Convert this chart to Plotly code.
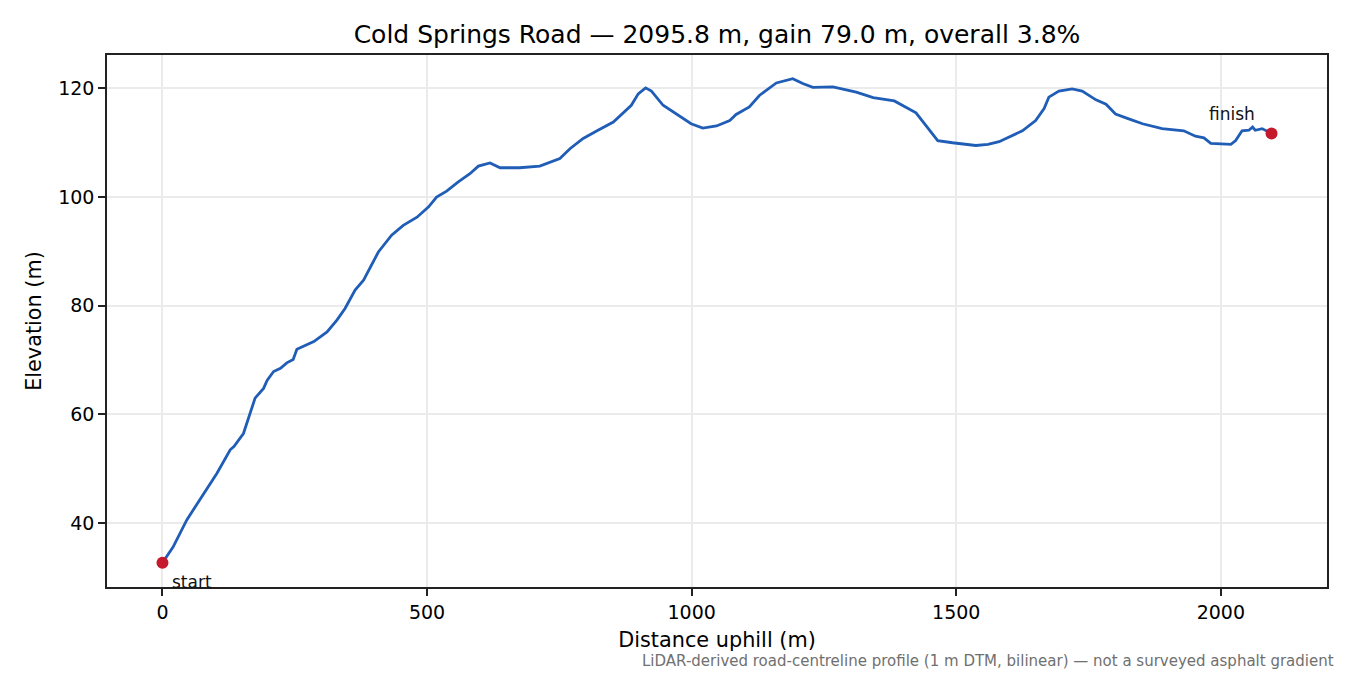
import plotly.graph_objects as go

# road-centreline profile
distance_m = [0, 20, 46, 78, 103, 128, 135, 153, 175, 191, 198, 210, 223, 235, 247, 254, 267, 286,
              311, 330, 345, 364, 380, 393, 408, 433, 455, 481, 503, 518, 537, 559, 581, 597, 619,
              638, 675, 713, 751, 770, 795, 823, 852, 886, 899, 913, 924, 946, 971, 999, 1021,
              1047, 1072, 1084, 1109, 1128, 1160, 1191, 1210, 1229, 1267, 1311, 1343, 1383, 1424,
              1443, 1465, 1493, 1537, 1560, 1581, 1625, 1650, 1666, 1675, 1694, 1719, 1738, 1764,
              1783, 1801, 1826, 1852, 1889, 1930, 1952, 1968, 1981, 2019, 2028, 2040, 2053, 2060,
              2065, 2078, 2095.8]
elevation_m = [32.7, 35.6, 40.6, 45.5, 49.2, 53.5, 54.1, 56.5, 63.0, 64.8, 66.3, 67.9, 68.5, 69.5,
               70.1, 72.0, 72.6, 73.4, 75.2, 77.4, 79.5, 82.9, 84.7, 87.2, 89.9, 93.0, 94.8, 96.3,
               98.2, 100.0, 101.1, 102.8, 104.3, 105.7, 106.3, 105.4, 105.4, 105.7, 107.1, 108.9,
               110.8, 112.3, 113.8, 116.9, 119.0, 120.1, 119.5, 116.9, 115.3, 113.5, 112.7, 113.1,
               114.1, 115.2, 116.6, 118.7, 121.0, 121.8, 120.9, 120.2, 120.3, 119.3, 118.3, 117.7,
               115.5, 113.2, 110.4, 110.0, 109.5, 109.7, 110.2, 112.2, 114.1, 116.3, 118.4, 119.5,
               119.9, 119.5, 117.9, 117.1, 115.3, 114.4, 113.5, 112.6, 112.2, 111.2, 110.9, 109.9,
               109.7, 110.4, 112.2, 112.3, 112.9, 112.3, 112.6, 111.7]

route_name = "Cold Springs Road"
total_len = distance_m[-1]
gain = elevation_m[-1] - elevation_m[0]
overall = gain / total_len * 100

font = "DejaVu Sans"

fig = go.Figure()
fig.add_trace(go.Scatter(x=distance_m, y=elevation_m, mode="lines",
                         line=dict(color="#1f5db6", width=2.8), showlegend=False))
fig.add_trace(go.Scatter(x=[distance_m[0], distance_m[-1]], y=[elevation_m[0], elevation_m[-1]],
                         mode="markers", marker=dict(color="#c41a2b", size=12),
                         showlegend=False))

fig.add_annotation(x=distance_m[0], y=elevation_m[0], text="start", showarrow=False,
                   xanchor="left", yanchor="top", xshift=8, yshift=-7,
                   font=dict(size=17, color="#111"))
fig.add_annotation(x=distance_m[-1], y=elevation_m[-1], text="finish", showarrow=False,
                   xanchor="right", yanchor="bottom", xshift=-15, yshift=8,
                   font=dict(size=17, color="#111"))
fig.add_annotation(x=1, y=0, xref="paper", yref="paper", xanchor="right", yanchor="top",
                   xshift=9, yshift=-63, showarrow=False,
                   text="LiDAR-derived road-centreline profile (1 m DTM, bilinear) — not a surveyed asphalt gradient",
                   font=dict(size=15, color="#707070"))

axis_common = dict(showline=True, linecolor="#222", linewidth=1.6, mirror=True,
                   ticks="outside", ticklen=7, tickwidth=1.6, tickcolor="#222", showgrid=True,
                   gridcolor="#ebebeb", gridwidth=1.6, zeroline=False,
                   tickfont=dict(size=19, color="black"))

fig.update_layout(
    width=1350, height=675,
    margin=dict(l=99, r=31, t=47, b=96),
    paper_bgcolor="white", plot_bgcolor="white",
    font=dict(family=font, color="black"),
    title=dict(text=f"{route_name} — {total_len:.1f} m, gain {gain:.1f} m, overall {overall:.1f}%",
               x=0.5, xanchor="center", xref="paper", y=1 - 26 / 675, yanchor="middle",
               yref="container", font=dict(size=25)),
    xaxis=dict(axis_common, range=[-104.8, 2200.6], tickvals=[0, 500, 1000, 1500, 2000],
               title=dict(text="Distance uphill (m)", font=dict(size=20.8), standoff=11)),
    yaxis=dict(axis_common, range=[28.25, 126.15], tickvals=[40, 60, 80, 100, 120],
               title=dict(text="Elevation (m)", font=dict(size=20.8), standoff=11)),
)

fig.write_html("out.html")
